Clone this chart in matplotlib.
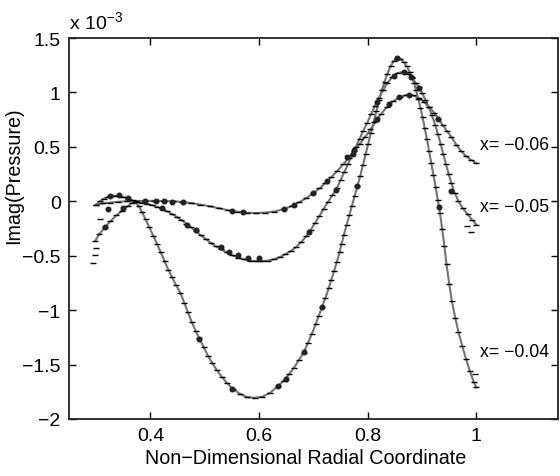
import matplotlib
matplotlib.use("Agg")
import matplotlib.pyplot as plt

plt.rcParams['font.family'] = ['Liberation Sans', 'DejaVu Sans']

# radial coordinate / imag(pressure) in units of 1e-3
# x = -0.06
r_06 = [0.300, 0.312, 0.325, 0.340, 0.356, 0.373, 0.390, 0.407, 0.424, 0.441,
        0.458, 0.475, 0.492, 0.509, 0.526, 0.543, 0.560, 0.577, 0.594, 0.611,
        0.628, 0.645, 0.660, 0.674, 0.687, 0.699, 0.711, 0.722, 0.733, 0.744,
        0.755, 0.765, 0.775, 0.785, 0.795, 0.805, 0.815, 0.825, 0.836, 0.847,
        0.859, 0.871, 0.883, 0.894, 0.904, 0.913, 0.922, 0.930, 0.938, 0.946,
        0.954, 0.963, 0.972, 0.981, 0.990, 1.000]
p_06 = [-0.030, -0.020, -0.012, -0.005, 0.000, 0.003, 0.004, 0.004, 0.003, 0.000,
        -0.006, -0.016, -0.030, -0.046, -0.064, -0.082, -0.096, -0.105, -0.108, -0.104,
        -0.094, -0.072, -0.043, -0.008, 0.030, 0.072, 0.118, 0.168, 0.222, 0.280,
        0.340, 0.400, 0.460, 0.525, 0.590, 0.660, 0.735, 0.805, 0.870, 0.920,
        0.958, 0.976, 0.972, 0.950, 0.910, 0.865, 0.815, 0.760, 0.700, 0.645,
        0.590, 0.520, 0.460, 0.415, 0.380, 0.350]

# x = -0.05
r_05 = [0.300, 0.307, 0.314, 0.322, 0.331, 0.340, 0.349, 0.358, 0.367, 0.376,
        0.385, 0.394, 0.403, 0.412, 0.421, 0.430, 0.439, 0.448, 0.457, 0.466,
        0.475, 0.484, 0.493, 0.502, 0.511, 0.520, 0.530, 0.540, 0.550, 0.561,
        0.572, 0.583, 0.594, 0.605, 0.616, 0.627, 0.638, 0.648, 0.658, 0.668,
        0.678, 0.687, 0.695, 0.703, 0.711, 0.719, 0.727, 0.735, 0.743, 0.750,
        0.757, 0.764, 0.771, 0.778, 0.785, 0.792, 0.799, 0.806, 0.813, 0.820,
        0.828, 0.836, 0.845, 0.855, 0.866, 0.875, 0.882, 0.888, 0.894, 0.900,
        0.906, 0.912, 0.918, 0.924, 0.929, 0.934, 0.939, 0.944, 0.949, 0.954,
        0.960, 0.967, 0.975, 0.984, 0.992, 1.000]
p_05 = [-0.030, 0.000, 0.025, 0.042, 0.052, 0.050, 0.040, 0.025, 0.008, -0.006,
        -0.016, -0.025, -0.036, -0.050, -0.068, -0.090, -0.115, -0.142, -0.172, -0.205,
        -0.240, -0.276, -0.313, -0.348, -0.382, -0.413, -0.442, -0.470, -0.495, -0.517,
        -0.533, -0.544, -0.550, -0.550, -0.545, -0.533, -0.513, -0.488, -0.458, -0.420,
        -0.372, -0.320, -0.262, -0.200, -0.135, -0.068, -0.005, 0.055, 0.120, 0.195,
        0.270, 0.345, 0.425, 0.500, 0.575, 0.650, 0.720, 0.800, 0.875, 0.945,
        1.020, 1.085, 1.140, 1.178, 1.190, 1.170, 1.135, 1.090, 1.050, 0.995,
        0.935, 0.870, 0.790, 0.705, 0.620, 0.530, 0.435, 0.340, 0.250, 0.165,
        0.080, 0.000, -0.065, -0.120, -0.170, -0.215]

# x = -0.04
r_04 = [0.298, 0.306, 0.316, 0.326, 0.337, 0.348, 0.358, 0.366, 0.372, 0.378,
        0.384, 0.391, 0.398, 0.405, 0.412, 0.419, 0.426, 0.433, 0.440, 0.447,
        0.455, 0.462, 0.469, 0.476, 0.483, 0.490, 0.498, 0.506, 0.514, 0.522,
        0.531, 0.541, 0.552, 0.565, 0.578, 0.592, 0.606, 0.620, 0.634, 0.645,
        0.655, 0.664, 0.673, 0.682, 0.690, 0.697, 0.704, 0.710, 0.716, 0.722,
        0.728, 0.733, 0.738, 0.743, 0.748, 0.752, 0.756, 0.761, 0.766, 0.771,
        0.776, 0.781, 0.786, 0.791, 0.796, 0.801, 0.806, 0.811, 0.816, 0.821,
        0.826, 0.831, 0.836, 0.842, 0.848, 0.854, 0.860, 0.866, 0.872, 0.877,
        0.881, 0.885, 0.889, 0.893, 0.897, 0.901, 0.905, 0.909, 0.913, 0.917,
        0.921, 0.925, 0.929, 0.933, 0.937, 0.941, 0.945, 0.950, 0.955, 0.961,
        0.967, 0.974, 0.981, 0.988, 0.995, 1.000]
p_04 = [-0.365, -0.300, -0.240, -0.185, -0.130, -0.085, -0.045, -0.015, -0.005, -0.040,
        -0.095, -0.165, -0.240, -0.315, -0.390, -0.470, -0.550, -0.630, -0.700, -0.770,
        -0.840, -0.930, -1.020, -1.110, -1.190, -1.260, -1.340, -1.420, -1.490, -1.550,
        -1.610, -1.670, -1.725, -1.770, -1.800, -1.805, -1.795, -1.760, -1.700, -1.650,
        -1.590, -1.530, -1.460, -1.390, -1.300, -1.220, -1.130, -1.050, -0.970, -0.890,
        -0.800, -0.720, -0.640, -0.560, -0.470, -0.390, -0.310, -0.220, -0.130, -0.040,
        0.050, 0.140, 0.230, 0.330, 0.430, 0.530, 0.630, 0.730, 0.830, 0.930,
        1.020, 1.100, 1.170, 1.240, 1.290, 1.316, 1.310, 1.280, 1.240, 1.190,
        1.140, 1.090, 1.020, 0.940, 0.860, 0.770, 0.670, 0.570, 0.460, 0.350,
        0.240, 0.130, 0.010, -0.110, -0.250, -0.410, -0.580, -0.760, -0.920, -1.070,
        -1.200, -1.330, -1.450, -1.560, -1.660, -1.710]

# scattered dashes that sit off the curves
r_off = [0.307, 0.300, 0.297, 0.294, 0.982, 0.990, 0.998]
p_off = [-0.160, -0.430, -0.490, -0.570, -0.230, -0.280, -1.590]

# dot data
rd_06 = [0.390, 0.410, 0.425, 0.440, 0.460, 0.550, 0.570, 0.645, 0.665, 0.700,
         0.725, 0.762, 0.775, 0.817, 0.840, 0.857, 0.876, 0.930]
pd_06 = [0.003, 0.003, 0.002, -0.002, -0.010, -0.085, -0.100, -0.070, -0.030, 0.075,
         0.185, 0.405, 0.470, 0.755, 0.895, 0.958, 0.978, 0.760]
rd_05 = [0.325, 0.342, 0.358, 0.322, 0.422, 0.468, 0.483, 0.529, 0.545, 0.562,
         0.580, 0.599, 0.692, 0.741, 0.772, 0.817, 0.848, 0.866, 0.880, 0.895, 0.953]
pd_05 = [0.048, 0.055, 0.030, -0.070, -0.062, -0.218, -0.264, -0.420, -0.466, -0.493,
         -0.521, -0.521, -0.280, 0.100, 0.430, 0.910, 1.150, 1.190, 1.145, 1.040, 0.095]
rd_04 = [0.316, 0.350, 0.490, 0.551, 0.634, 0.650, 0.683, 0.716, 0.781, 0.854, 0.931]
pd_04 = [-0.240, -0.060, -1.265, -1.725, -1.700, -1.630, -1.380, -0.970, 0.140, 1.316, -0.050]

labels = ['x= \u22120.06', 'x= \u22120.05', 'x= \u22120.04']
label_y = [0.52, -0.05, -1.38]

xticks = [0.4, 0.6, 0.8, 1.0]
xticklabels = ['0.4', '0.6', '0.8', '1']
yticks = [-2, -1.5, -1, -0.5, 0, 0.5, 1, 1.5]
yticklabels = ['\u22122', '\u22121.5', '\u22121', '\u22120.5', '0', '0.5', '1', '1.5']

fig = plt.figure(figsize=(5.6, 4.77), dpi=100)
ax = fig.add_axes([0.1232, 0.1195, 0.873, 0.7987])

for r, p in [(r_06, p_06), (r_05, p_05), (r_04, p_04)]:
    ax.plot(r, p, color='#747474', lw=1.5, zorder=2)
    ax.plot(r, p, ls='none', marker='_', ms=4.5, mew=1.0, color='black', zorder=3)
ax.plot(r_off, p_off, ls='none', marker='_', ms=4.5, mew=1.0, color='black', zorder=3)

for r, p in [(rd_06, pd_06), (rd_05, pd_05), (rd_04, pd_04)]:
    ax.plot(r, p, ls='none', marker='o', ms=3.3, color='#222222', mec='#222222', zorder=4)

for t, y in zip(labels, label_y):
    ax.text(1.006, y, t, fontsize=12.7, va='center', ha='left')

ax.set_xlim(0.25, 1.15)
ax.set_ylim(-2, 1.5)
ax.set_xticks(xticks)
ax.set_xticklabels(xticklabels)
ax.set_yticks(yticks)
ax.set_yticklabels(yticklabels)
ax.tick_params(direction='in', top=True, right=True, length=5, width=1,
               labelsize=14, pad=6)
for s in ax.spines.values():
    s.set_linewidth(1.3)
    s.set_color('#222222')

ax.set_xlabel('Non\u2212Dimensional Radial Coordinate', fontsize=14.2)
ax.xaxis.set_label_coords(0.485, -0.075)
ax.set_ylabel('Imag(Pressure)', fontsize=14.2)
ax.yaxis.set_label_coords(-0.094, 0.64)
ax.text(0.0, 1.014, r'x 10$^{\mathregular{-3}}$', transform=ax.transAxes,
        fontsize=14, va='bottom', ha='left')

fig.savefig('out.png', dpi=100)
